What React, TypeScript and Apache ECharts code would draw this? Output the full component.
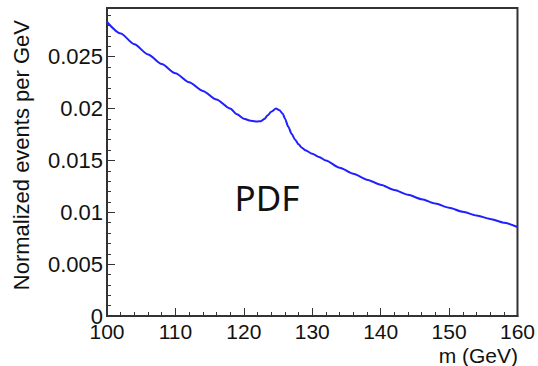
import React, { useEffect, useRef } from "react";
import * as echarts from "echarts";

const massGeV = [
  100, 102, 104, 106, 108, 110, 112, 114, 116, 118, 119, 120, 121, 122, 122.5, 123, 123.5,
  124, 124.7, 125.2, 125.7, 126, 126.5, 127, 127.5, 128, 128.5, 129, 130, 131, 132, 134,
  136, 138, 140, 142, 144, 146, 148, 150, 152, 154, 156, 158, 160,
];
const pdfValues = [
  0.02835, 0.02724, 0.0262, 0.02522, 0.02429, 0.0234, 0.02254, 0.0217, 0.02087, 0.02,
  0.01945, 0.01902, 0.01882, 0.01876, 0.01879, 0.019, 0.01935, 0.0197, 0.02, 0.01985, 0.0195,
  0.01905, 0.01825, 0.01755, 0.017, 0.01655, 0.01622, 0.01598, 0.01565, 0.01533, 0.015,
  0.0143, 0.01372, 0.01315, 0.01265, 0.01215, 0.01169, 0.01126, 0.01084, 0.01044, 0.01005,
  0.0097, 0.00936, 0.009, 0.00858,
];
const yLabels = ["0", "0.005", "0.01", "0.015", "0.02", "0.025"];
const xTitle = "m (GeV)";
const yTitle = "Normalized events per GeV";
const annotation = "PDF";

const FONT = "Liberation Sans";

export default function App() {
  const ref = useRef<HTMLDivElement>(null);
  useEffect(() => {
    if (!ref.current) return;
    const chart = echarts.init(ref.current, undefined, { renderer: "svg" });
    const data = massGeV.map((m, i) => [m, pdfValues[i]]);
    const yMin = 0;
    const yMax = 0.0297;
    const tickColor = "#333";
    chart.setOption({
      animation: false,
      backgroundColor: "#fff",
      grid: {
        left: 107,
        top: 8,
        right: 19,
        bottom: 50,
        show: true,
        borderColor: "#333",
        borderWidth: 2,
        backgroundColor: "transparent",
        containLabel: false,
      },
      xAxis: [
        {
          type: "value",
          min: 100,
          max: 160,
          interval: 10,
          axisLine: { show: true, lineStyle: { color: "#333", width: 2 } },
          axisTick: { show: true, inside: true, length: 8, lineStyle: { color: tickColor } },
          splitLine: { show: false },
          axisLabel: {
            show: true,
            margin: 4,
            color: "#111",
            fontSize: 21,
            lineHeight: 22,
            fontFamily: FONT,
          },
        },
        {
          type: "value",
          min: 100,
          max: 160,
          interval: 2,
          position: "bottom",
          axisLine: { show: false },
          axisTick: { show: true, inside: true, length: 4, lineStyle: { color: tickColor } },
          splitLine: { show: false },
          axisLabel: { show: false },
        },
      ],
      yAxis: [
        {
          type: "value",
          min: yMin,
          max: yMax,
          interval: 0.005,
          axisLine: { show: true, lineStyle: { color: "#333", width: 2 } },
          axisTick: { show: true, inside: true, length: 8, lineStyle: { color: tickColor } },
          splitLine: { show: false },
          axisLabel: {
            show: true,
            showMaxLabel: false,
            margin: 4,
            color: "#111",
            fontSize: 22,
            fontFamily: FONT,
            formatter: (v: number) => {
              const idx = Math.round(v / 0.005);
              if (Math.abs(v - idx * 0.005) > 1e-9) return "";
              return yLabels[idx] ?? "";
            },
          },
        },
        {
          type: "value",
          min: yMin,
          max: yMax,
          interval: 0.001,
          position: "left",
          axisLine: { show: false },
          axisTick: { show: true, inside: true, length: 4, lineStyle: { color: tickColor } },
          splitLine: { show: false },
          axisLabel: { show: false },
        },
      ],
      series: [
        {
          type: "line",
          xAxisIndex: 0,
          yAxisIndex: 0,
          data,
          showSymbol: false,
          smooth: 0.25,
          smoothMonotone: "x",
          lineStyle: { color: "#1f1fff", width: 2 },
          silent: true,
        },
      ],
      graphic: [
        {
          type: "text",
          x: 21,
          y: 20,
          rotation: Math.PI / 2,
          style: {
            text: yTitle,
            fontSize: 22,
            fontFamily: FONT,
            fill: "#111",
            align: "right",
            verticalAlign: "middle",
          },
        },
        {
          type: "text",
          x: 518,
          y: 355,
          style: {
            text: xTitle,
            fontSize: 21,
            lineHeight: 21,
            fontFamily: FONT,
            fill: "#111",
            align: "right",
            verticalAlign: "middle",
          },
        },
        {
          type: "text",
          x: 267,
          y: 197,
          style: {
            text: annotation,
            fontSize: 35,
            fontFamily: "Noto Sans",
            fill: "#111",
            align: "center",
            verticalAlign: "middle",
          },
        },
      ],
    });
    return () => chart.dispose();
  }, []);
  return (
    <div
      ref={ref}
      style={{ position: "absolute", left: 0, top: 0, width: 538, height: 366 }}
    />
  );
}
